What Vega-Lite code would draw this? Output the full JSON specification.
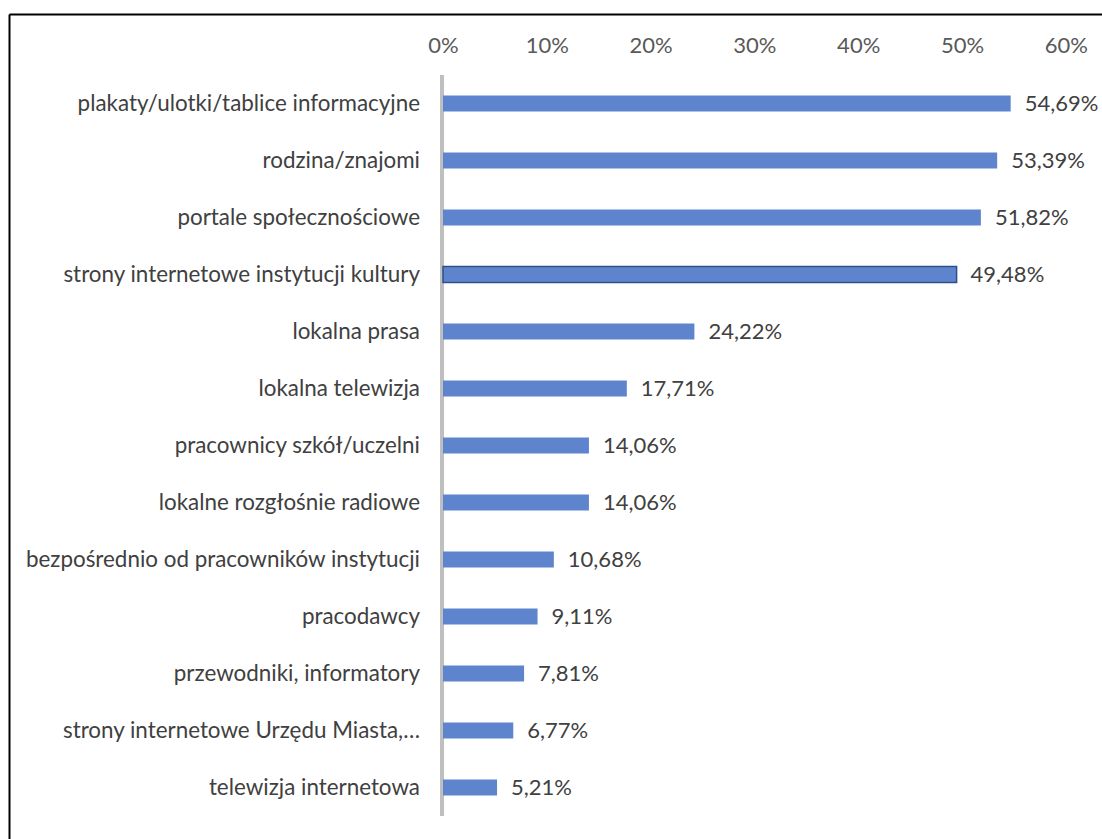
{
  "$schema": "https://vega.github.io/schema/vega-lite/v6.json",
  "width": 1093,
  "height": 825,
  "padding": {"left": 9, "top": 14, "right": 0, "bottom": 0},
  "autosize": {"type": "none"},
  "background": "white",
  "config": {
    "view": {"stroke": null},
    "locale": {"number": {"decimal": ",", "thousands": " ", "grouping": [3], "currency": ["", " zł"]}},
    "font": "Lato"
  },
  "data": {
    "values": [
      {"cat": "plakaty/ulotki/tablice informacyjne", "v": 0.5469},
      {"cat": "rodzina/znajomi", "v": 0.5339},
      {"cat": "portale społecznościowe", "v": 0.5182},
      {"cat": "strony internetowe instytucji kultury", "v": 0.4948},
      {"cat": "lokalna prasa", "v": 0.2422},
      {"cat": "lokalna telewizja", "v": 0.1771},
      {"cat": "pracownicy szkół/uczelni", "v": 0.1406},
      {"cat": "lokalne rozgłośnie radiowe", "v": 0.1406},
      {"cat": "bezpośrednio od pracowników instytucji", "v": 0.1068},
      {"cat": "pracodawcy", "v": 0.0911},
      {"cat": "przewodniki, informatory", "v": 0.0781},
      {"cat": "strony internetowe Urzędu Miasta,…", "v": 0.0677},
      {"cat": "telewizja internetowa", "v": 0.0521}
    ]
  },
  "encoding": {
    "y": {
      "field": "cat", "type": "nominal", "sort": null,
      "scale": {"paddingInner": 0, "paddingOuter": 0.73684, "align": 0.7262},
      "axis": {"domain": true, "domainColor": "#000000", "domainWidth": 2, "labels": false, "ticks": false, "title": null, "grid": false}
    }
  },
  "layer": [
    {
      "mark": {"type": "rect", "color": "#BFBFBF"},
      "encoding": {
        "x": {"datum": -0.0029, "type": "quantitative",
          "scale": {"domain": [-0.41811, 0.63488], "nice": false, "zero": false},
          "axis": {"orient": "top", "domain": true, "domainColor": "#000000", "domainWidth": 2, "labels": false, "ticks": false, "grid": false, "title": null}},
        "x2": {"datum": 0.001}
      }
    },
    {
      "mark": {"type": "bar", "height": {"band": 0.28}, "color": "#5F84CE"},
      "encoding": {
        "x": {"field": "v", "type": "quantitative",
          "axis": {"orient": "bottom", "offset": -804, "values": [0, 0.1, 0.2, 0.3, 0.4, 0.5, 0.6], "format": ".0%",
            "domain": false, "ticks": false, "grid": false, "title": null,
            "labelFontSize": 22, "labelColor": "#595959", "labelPadding": 0, "labelFont": "Lato"}},
        "stroke": {"condition": {"test": "datum.cat === 'strony internetowe instytucji kultury'", "value": "#2F4F8A"}, "value": null},
        "strokeWidth": {"value": 1.5}
      }
    },
    {
      "mark": {"type": "text", "align": "left", "baseline": "middle", "dx": 14, "fontSize": 22, "color": "#404040"},
      "encoding": {
        "x": {"field": "v", "type": "quantitative", "axis": null},
        "text": {"field": "v", "type": "quantitative", "format": ".2%"}
      }
    },
    {
      "mark": {"type": "text", "align": "right", "baseline": "middle", "dx": -23, "fontSize": 22.4, "color": "#404040"},
      "encoding": {
        "x": {"datum": 0, "type": "quantitative", "axis": null},
        "text": {"field": "cat", "type": "nominal"}
      }
    }
  ]
}
